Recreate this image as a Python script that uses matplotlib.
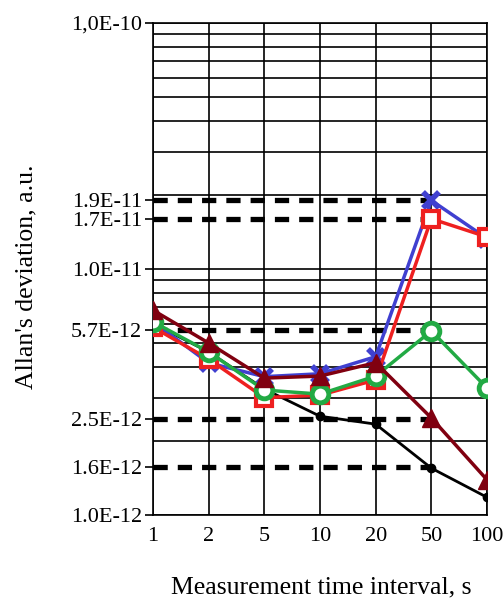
import numpy as np
import matplotlib
matplotlib.use("Agg")
import matplotlib.pyplot as plt

# Data
intervals = ["1", "2", "5", "10", "20", "50", "100"]
black_vals = [6.0e-12, 4.6e-12, 3.25e-12, 2.52e-12, 2.34e-12, 1.55e-12, 1.18e-12]
blue_vals = [6.1e-12, 4.15e-12, 3.65e-12, 3.75e-12, 4.4e-12, 1.9e-11, 1.33e-11]
red_vals = [5.8e-12, 4.3e-12, 3.0e-12, 3.07e-12, 3.54e-12, 1.6e-11, 1.35e-11]
green_vals = [6.1e-12, 4.6e-12, 3.22e-12, 3.1e-12, 3.67e-12, 5.6e-12, 3.28e-12]
darkred_vals = [6.8e-12, 5.0e-12, 3.6e-12, 3.67e-12, 4.16e-12, 2.48e-12, 1.39e-12]

# Reference levels (dashed) and their labels, placed where the picture shows them
level_vals = [1.9e-11, 1.6e-11, 5.65e-12, 2.45e-12, 1.56e-12]
level_labels = ["1.9E-11", "1.7E-11", "5.7E-12", "2.5E-12", "1.6E-12"]

plt.rcParams['font.family'] = ['Liberation Serif', 'DejaVu Serif']

fig = plt.figure(figsize=(5.04, 6.0), dpi=100)
ax = fig.add_axes([0.3036, 0.1417, 0.6627, 0.82])

x = np.arange(len(intervals))

# grid: every 1..9 per decade
for dec in [1e-12, 1e-11]:
    for k in range(1, 10):
        ax.axhline(k * dec, color='black', lw=1.2, zorder=1)
ax.axhline(1e-10, color='black', lw=1.2, zorder=1)
for xi in x:
    ax.axvline(xi, color='black', lw=1.2, zorder=1)

# dashed reference levels up to the 50 s point
for v in level_vals:
    ax.plot([0, 5], [v, v], color='black', lw=3.8, ls=(0, (2.7, 1.9)),
            dash_capstyle='butt', zorder=2)

ax.plot(x, black_vals, color='black', lw=2, marker='o', ms=6, zorder=3)
ax.plot(x, blue_vals, color='#4040d0', lw=2.5, marker='x', ms=12, mew=4, zorder=4)
ax.plot(x, red_vals, color='#ee2020', lw=2.5, marker='s', ms=12, mew=3,
        mfc='white', zorder=5)
ax.plot(x, green_vals, color='#22aa44', lw=2.5, marker='o', ms=12, mew=3.5,
        mfc='white', zorder=6)
ax.plot(x, darkred_vals, color='#800010', lw=2.5, marker='^', ms=13, zorder=7)

ax.set_yscale('log')
ax.set_ylim(1e-12, 1e-10)
ax.set_xlim(0, 6)

ax.set_yticks([1e-12] + level_vals + [1e-11, 1e-10])
ax.set_yticklabels(["1.0E-12"] + level_labels + ["1.0E-11", "1,0E-10"])
ax.yaxis.set_minor_locator(matplotlib.ticker.NullLocator())
ax.set_xticks(x)
ax.set_xticklabels(intervals)
ax.tick_params(axis='y', length=6, width=1.2, labelsize=16, pad=2)
ax.tick_params(axis='x', length=0, labelsize=16, pad=9)

for s in ax.spines.values():
    s.set_linewidth(1.2)

ax.set_ylabel("Allan's deviation, a.u.", fontsize=18.5)
ax.yaxis.set_label_coords(-0.345, 0.484)
ax.set_xlabel("Measurement time interval, s", fontsize=18.5)
ax.xaxis.set_label_coords(0.5045, -0.124)

fig.savefig("out.png", dpi=100)
